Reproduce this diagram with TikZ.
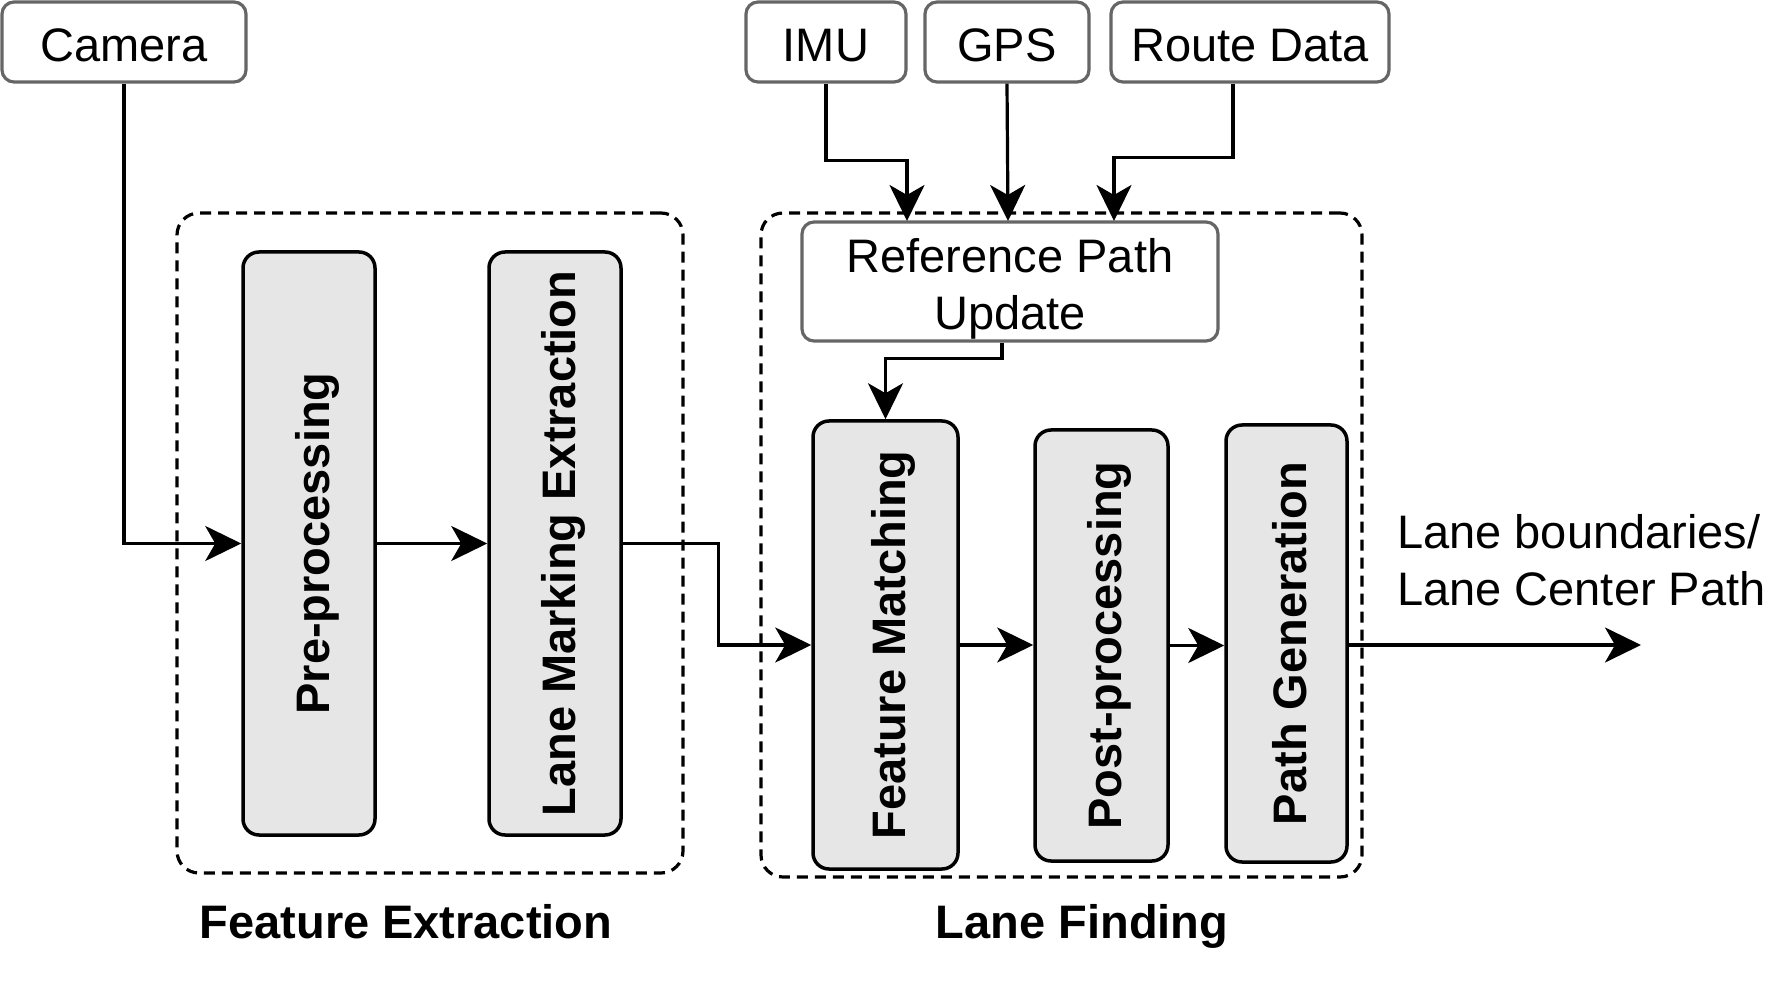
\documentclass[tikz,border=0pt]{standalone}
\usepackage{fontspec}
\setmainfont{Liberation Sans}
\usetikzlibrary{arrows.meta}
\definecolor{srcgray}{HTML}{666666}
\definecolor{stagegray}{HTML}{E6E6E6}
\newcommand{\vstrut}{\rule[-10pt]{0pt}{60pt}}
\newcommand{\vlabel}[1]{\rotatebox{90}{\vstrut #1}}
\begin{document}
\begin{tikzpicture}[x=1pt,y=-1pt,
  every node/.style={font=\fontsize{47}{57}\selectfont, inner sep=0pt},
  src/.style={draw=srcgray, line width=3.2pt, rounded corners=12pt, fill=white},
  stage/.style={draw=black, line width=3.5pt, rounded corners=16pt, fill=stagegray, font=\fontsize{47}{57}\selectfont\bfseries},
  group/.style={draw=black, line width=3.2pt, dash pattern=on 11pt off 7pt, rounded corners=22pt},
  glabel/.style={font=\fontsize{47}{57}\selectfont\bfseries, anchor=base},
  conn/.style={line width=3.2pt, -{Stealth[length=36pt,width=35pt,inset=10pt]}},
]
\useasboundingbox (0,0) rectangle (1778,981);

% group containers
\node[group, minimum width=506, minimum height=660] (fe) at (430,543) {};
\node[group, minimum width=601, minimum height=664] (lf) at (1061.5,545) {};

% sources
\node[src, minimum width=244, minimum height=80] (cam) at (124,42) {\vstrut Camera};
\node[src, minimum width=160, minimum height=80] (imu) at (826,42) {\vstrut IMU};
\node[src, minimum width=164, minimum height=80] (gps) at (1007,42) {\vstrut GPS};
\node[src, minimum width=278, minimum height=80] (route) at (1250,42) {\vstrut Route Data};
\node[src, minimum width=416, minimum height=119, align=center] (ref) at (1010,281.5) {\rule{0pt}{50pt}Reference Path\\Update\rule[-10pt]{0pt}{10pt}};

% stages
\node[stage, minimum width=132, minimum height=583] (pre) at (309,543.5) {\vlabel{Pre-processing}};
\node[stage, minimum width=132, minimum height=583] (lme) at (555,543.5) {\vlabel{Lane Marking Extraction}};
\node[stage, minimum width=145, minimum height=448] (fm) at (885.5,645) {\vlabel{Feature Matching}};
\node[stage, minimum width=133, minimum height=431] (pp) at (1101.5,645.5) {\vlabel{Post-processing}};
\node[stage, minimum width=121, minimum height=437] (pg) at (1286.5,643.5) {\vlabel{Path Generation}};

% free ends
\coordinate (imuend) at (907,221);
\coordinate (gpsend) at (1008,221);
\coordinate (routeend) at (1114,221);
\coordinate (out) at (1641,645);

% connectors
\draw[conn] (cam.south) |- (pre.west);
\draw[conn] (pre.east) -- (lme.west);
\draw[conn] (lme.east) -- ++(96,0) |- (fm.west);
\draw[conn] (fm.east) -- (fm.east -| pp.west);
\draw[conn] (pp.east) -- (pp.east -| pg.west);
\draw[conn] (pg.east |- out) -- (out);
\draw[conn] (imu.south) -- ++(0,77) -| (imuend);
\draw[conn] (gps.south) -- (gpsend);
\draw[conn] ([xshift=-17pt]route.south) -- ++(0,74) -| (routeend);
\draw[conn] ([xshift=-8pt]ref.south) -- ++(0,16) -| (fm.north);

% labels
\node[anchor=west, align=left] (outlab) at (1397,560) {Lane boundaries/\\Lane Center Path};
\node[glabel] (felab) at (406,938) {Feature Extraction};
\node[glabel] (lflab) at (1082,938) {Lane Finding};
\end{tikzpicture}
\end{document}
